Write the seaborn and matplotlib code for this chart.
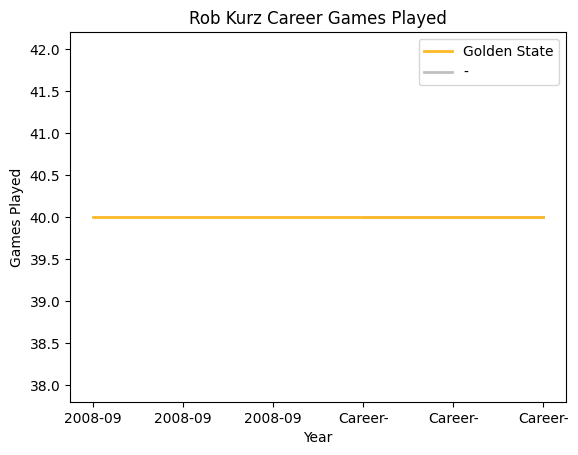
import matplotlib
matplotlib.use("Agg")
import matplotlib.pyplot as plt
import seaborn as sns
import pandas as pd

tick_labels = ["2008-09", "2008-09", "2008-09", "Career-", "Career-", "Career-"]
positions = [0, 1, 2, 3, 4, 5]
gsw_games = [40, 40, 40, 40, 40, 40]
other_pos = [3, 4, 5]
other_games = [40, 40, 40]

df_gsw = pd.DataFrame({"x": positions, "games": gsw_games})
df_other = pd.DataFrame({"x": other_pos, "games": other_games})

fig, ax = plt.subplots(figsize=(6.4, 4.8), dpi=100)
sns.lineplot(data=df_other, x="x", y="games", color="#C0C0C0", linewidth=2, label="-", ax=ax, zorder=1)
sns.lineplot(data=df_gsw, x="x", y="games", color="#FDB927", linewidth=2, label="Golden State", ax=ax, zorder=2)

ax.set_xticks(positions)
ax.set_xticklabels(tick_labels)
ax.set_title("Rob Kurz Career Games Played")
ax.set_xlabel("Year")
ax.set_ylabel("Games Played")

handles, labels = ax.get_legend_handles_labels()
order = [labels.index("Golden State"), labels.index("-")]
ax.legend([handles[i] for i in order], [labels[i] for i in order], loc="upper right")

fig.savefig("out.png", dpi=100, bbox_inches="tight")
